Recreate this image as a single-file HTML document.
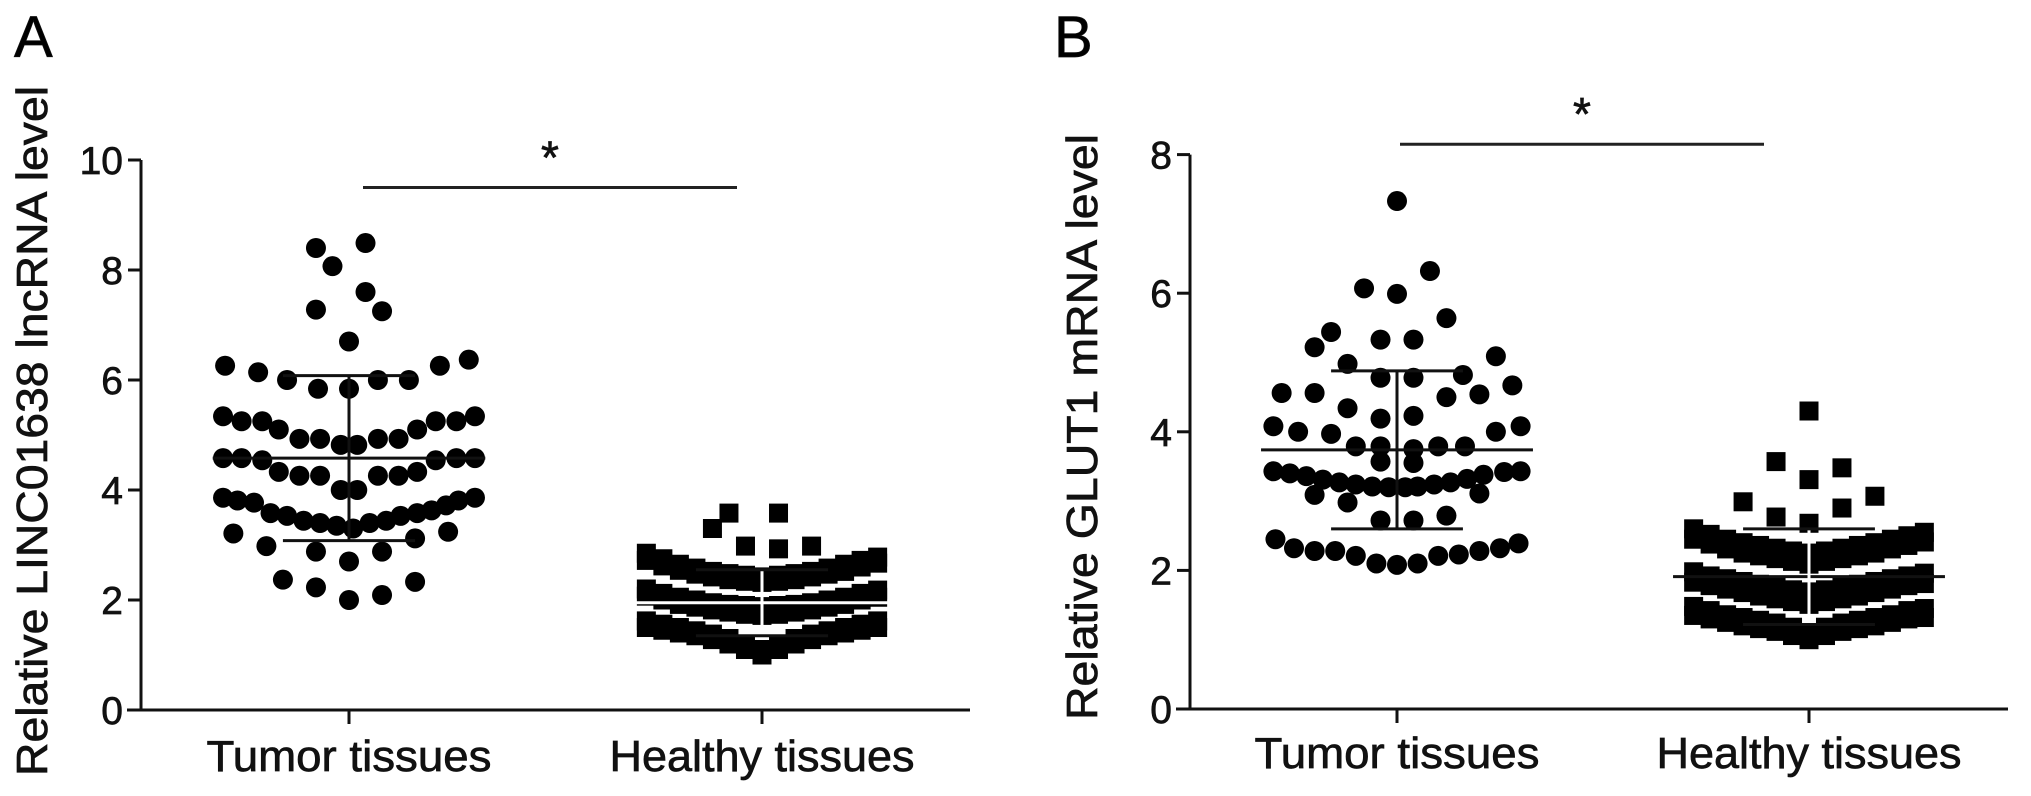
<!DOCTYPE html>
<html><head><meta charset="utf-8"><style>
html,body{margin:0;padding:0;background:#fff;}
svg{display:block;font-family:"Liberation Sans",Arial,sans-serif;}
svg text{stroke:#111;stroke-width:0.7px;}
</style></head><body>
<svg id="fig" width="2031" height="796" viewBox="0 0 2031 796">
<text x="14" y="57" font-size="58">A</text>
<text x="1054" y="57" font-size="58">B</text>
<g id="pa"></g>
<g id="pb"></g>
</svg>
<script>
const categories = ["Tumor tissues", "Healthy tissues"];
const ticksA = [0, 2, 4, 6, 8, 10];
const ticksB = [0, 2, 4, 6, 8];
// Panel A tumor: values and jitter (category-band units)
const aTumorVals = [8.4,8.07,8.49,7.28,7.6,7.25,6.7,
 6.26,6.14,6.0,5.84,5.84,6.0,6.0,6.26,6.37,
 5.34,5.25,5.25,5.1,4.93,4.93,4.82,4.82,4.93,4.93,5.1,5.25,5.25,5.34,
 4.58,4.58,4.54,4.33,4.26,4.26,4.0,4.0,4.26,4.26,4.33,4.54,4.58,4.58,
 3.86,3.81,3.77,3.58,3.53,3.44,3.40,3.35,3.30,3.40,3.44,3.53,3.58,3.63,3.72,3.81,3.86,
 3.21,2.98,2.88,2.7,2.88,3.12,3.24,2.37,2.23,2.0,2.09,2.33];
const aTumorJit = [-0.08,-0.04,0.04,-0.08,0.04,0.08,0,
 -0.30,-0.22,-0.15,-0.075,0,0.07,0.145,0.22,0.29,
 -0.305,-0.26,-0.21,-0.17,-0.12,-0.07,-0.02,0.02,0.07,0.12,0.165,0.21,0.26,0.305,
 -0.305,-0.26,-0.21,-0.17,-0.12,-0.07,-0.02,0.02,0.07,0.12,0.165,0.21,0.26,0.305,
 -0.305,-0.27,-0.23,-0.19,-0.15,-0.11,-0.07,-0.03,0.01,0.05,0.09,0.125,0.165,0.2,0.235,0.265,0.305,
 -0.28,-0.2,-0.08,0,0.08,0.16,0.24,-0.16,-0.08,0,0.08,0.16];
const bandJit = [-0.28,-0.24,-0.20,-0.16,-0.12,-0.08,-0.04,0,0.04,0.08,0.12,0.16,0.20,0.24,0.28];
const aHealthyOutVals = [3.3,3.58,3.58,2.98,2.93,2.98];
const aHealthyOutJit = [-0.12,-0.08,0.04,-0.04,0.04,0.12];
const aBand1 = [2.85,2.75,2.65,2.58,2.52,2.48,2.45,2.42,2.45,2.48,2.52,2.58,2.65,2.72,2.78];
const aBand2 = [2.72,2.62,2.54,2.47,2.42,2.37,2.34,2.32,2.34,2.37,2.42,2.47,2.52,2.6,2.67];
const aBand3 = [2.2,2.12,2.05,2.0,1.95,1.92,1.9,1.88,1.9,1.92,1.95,2.0,2.05,2.12,2.18];
const aBand4 = [2.07,2.0,1.92,1.87,1.82,1.78,1.74,1.72,1.74,1.78,1.82,1.87,1.92,2.0,2.05];
const aBand5 = [1.62,1.56,1.5,1.44,1.38,1.3,1.2,1.1,1.2,1.3,1.38,1.44,1.5,1.56,1.62];
const aBand6 = [1.5,1.45,1.4,1.35,1.28,1.2,1.1,1.0,1.1,1.2,1.28,1.35,1.4,1.45,1.5];
const aMean = [4.58, 1.95];
const aSD = [1.5, 0.6];
// Panel B
const bTumorVals = [7.33,6.32,6.07,5.99,5.64,5.44,5.22,5.33,5.33,5.09,4.98,
 4.78,4.78,4.82,4.56,4.56,4.54,4.67,4.5,4.34,4.19,4.23,
 4.08,4.0,3.97,4.0,4.08,3.79,3.79,3.75,3.79,3.79,3.57,3.55,
 3.43,3.40,3.36,3.31,3.27,3.24,3.21,3.20,3.20,3.21,3.24,3.27,3.32,3.38,3.42,3.43,
 3.09,2.98,3.11,2.72,2.72,2.79,
 2.45,2.32,2.28,2.28,2.21,2.10,2.08,2.10,2.21,2.23,2.28,2.32,2.39];
const bTumorJit = [0,0.08,-0.08,0,0.12,-0.16,-0.2,-0.04,0.04,0.24,-0.12,
 -0.04,0.04,0.16,-0.28,-0.2,0.2,0.28,0.12,-0.12,-0.04,0.04,
 -0.3,-0.24,-0.16,0.24,0.3,-0.1,-0.04,0.04,0.1,0.165,-0.04,0.04,
 -0.30,-0.26,-0.22,-0.18,-0.14,-0.10,-0.06,-0.02,0.02,0.05,0.09,0.13,0.17,0.21,0.26,0.30,
 -0.2,-0.12,0.2,-0.04,0.04,0.12,
 -0.295,-0.25,-0.2,-0.15,-0.1,-0.05,0,0.05,0.1,0.15,0.2,0.25,0.295];
const bHealthyOutVals = [4.3,3.57,3.48,3.31,2.99,3.07,2.77,2.9,2.68];
const bHealthyOutJit = [0,-0.08,0.08,0,-0.16,0.16,-0.08,0.08,0];
const bBand1 = [2.6,2.52,2.45,2.4,2.36,2.32,2.28,2.25,2.28,2.32,2.36,2.4,2.45,2.5,2.55];
const bBand2 = [2.45,2.38,2.31,2.25,2.21,2.17,2.13,2.09,2.13,2.17,2.21,2.25,2.31,2.36,2.41];
const bBand3 = [1.98,1.92,1.88,1.84,1.8,1.76,1.72,1.69,1.72,1.76,1.8,1.84,1.88,1.92,1.96];
const bBand4 = [1.83,1.78,1.73,1.68,1.63,1.59,1.55,1.51,1.55,1.59,1.63,1.68,1.73,1.78,1.81];
const bBand5 = [1.48,1.42,1.36,1.32,1.28,1.24,1.18,1.1,1.18,1.24,1.28,1.32,1.36,1.42,1.45];
const bBand6 = [1.35,1.3,1.25,1.2,1.16,1.12,1.06,1.0,1.06,1.12,1.16,1.2,1.25,1.3,1.32];
const bMean = [3.74, 1.91];
const bSD = [1.14, 0.69];

const NS = "http://www.w3.org/2000/svg";
function mk(parent, tag, attrs) {
  const e = document.createElementNS(NS, tag);
  for (const k in attrs) e.setAttribute(k, attrs[k]);
  parent.appendChild(e);
  return e;
}

function drawPanel(g, cfg) {
  const y = v => cfg.y0 - v * cfg.ppu;
  const x = (c, j) => cfg.cx0 + (c + j) * cfg.band;
  const axY = mk(g, "line", {x1: cfg.axX, y1: y(cfg.ticks[cfg.ticks.length-1]), x2: cfg.axX, y2: cfg.y0 + 1.5, stroke: "#111", "stroke-width": 3});
  
  
  const axX = mk(g, "line", {x1: cfg.axX - 14, y1: cfg.y0, x2: cfg.xEnd, y2: cfg.y0, stroke: "#111", "stroke-width": 3});
  
  
  cfg.ticks.forEach(t => {
    const tk = mk(g, "line", {x1: cfg.axX - 13, y1: y(t), x2: cfg.axX, y2: y(t), stroke: "#111", "stroke-width": 3});
    
    
    const tl = mk(g, "text", {x: cfg.axX - 18, y: y(t) + 14, "font-size": 39, "text-anchor": "end", fill: "#111"});
    tl.textContent = t;
    
    
  });
  categories.forEach((c, i) => {
    const tk = mk(g, "line", {x1: x(i, 0), y1: cfg.y0, x2: x(i, 0), y2: cfg.y0 + 14, stroke: "#111", "stroke-width": 3});
    
    
    const tl = mk(g, "text", {x: x(i, 0), y: cfg.labY, "font-size": 44, "text-anchor": "middle", fill: "#111", textLength: i === 0 ? 285 : 305, lengthAdjust: "spacingAndGlyphs"});
    tl.textContent = c;
    
    
  });
  const yt = mk(g, "text", {x: 0, y: 0, "font-size": 44, "text-anchor": "middle", fill: "#111", transform: `translate(${cfg.titleX},${cfg.titleY}) rotate(-90)`, textLength: cfg.titleLen, lengthAdjust: "spacingAndGlyphs"});
  yt.textContent = cfg.title;
  
  
  const sl = mk(g, "line", {x1: cfg.sig[0], y1: y(cfg.sigV), x2: cfg.sig[1], y2: y(cfg.sigV), stroke: "#222", "stroke-width": 3});
  
  
  const st = mk(g, "text", {x: (cfg.sig[0] + cfg.sig[1]) / 2, y: y(cfg.sigV) - 14, "font-size": 46, "text-anchor": "middle", fill: "#111"});
  st.textContent = "*";
  
  
  cfg.tumorVals.forEach((v, k) => {
    const c = mk(g, "circle", {cx: x(0, cfg.tumorJit[k]), cy: y(v), r: 10, fill: "#000"});
    
    
  });
  const sq = (v, j) => {
    const r = mk(g, "rect", {x: x(1, j) - 9.5, y: y(v) - 9.5, width: 19, height: 19, fill: "#000"});
    
    
  };
  cfg.bands.forEach(b => b.forEach((v, k) => sq(v, bandJit[k])));
  cfg.outVals.forEach((v, k) => sq(v, cfg.outJit[k]));
  [0, 1].forEach(i => {
    const m = cfg.mean[i], s = cfg.sd[i];
    const col = (i === 0 || cfg.darkHealthyMean) ? "#111" : "#fff";
    const ml = mk(g, "line", {x1: x(i, -0.33), y1: y(m), x2: x(i, 0.33), y2: y(m), stroke: col, "stroke-width": 3});
    
    
    const vl = mk(g, "line", {x1: x(i, 0), y1: y(m + s), x2: x(i, 0), y2: y(m - s), stroke: i === 0 ? "#111" : "#fff", "stroke-width": 3});
    
    
    [m + s, m - s].forEach(v => {
      const cp = mk(g, "line", {x1: x(i, -0.16), y1: y(v), x2: x(i, 0.16), y2: y(v), stroke: "#111", "stroke-width": 3});
      
      
    });
  });
}

drawPanel(document.getElementById("pa"), {
  y0: 710, ppu: 55, axX: 141, xEnd: 970, cx0: 349, band: 413, labY: 771,
  ticks: ticksA, title: "Relative LINC01638 lncRNA level", titleX: 47, titleY: 431, titleLen: 690,
  sig: [363, 737], sigV: 9.5,
  tumorVals: aTumorVals, tumorJit: aTumorJit,
  bands: [aBand1, aBand2, aBand3, aBand4, aBand5, aBand6],
  outVals: aHealthyOutVals, outJit: aHealthyOutJit, mean: aMean, sd: aSD, darkHealthyMean: false
});
drawPanel(document.getElementById("pb"), {
  y0: 709, ppu: 69.3, axX: 1190, xEnd: 2008, cx0: 1397, band: 412, labY: 768,
  ticks: ticksB, title: "Relative GLUT1 mRNA level", titleX: 1097, titleY: 427, titleLen: 586,
  sig: [1400, 1764], sigV: 8.15,
  tumorVals: bTumorVals, tumorJit: bTumorJit,
  bands: [bBand1, bBand2, bBand3, bBand4, bBand5, bBand6],
  outVals: bHealthyOutVals, outJit: bHealthyOutJit, mean: bMean, sd: bSD, darkHealthyMean: true
});
</script>
</body></html>
